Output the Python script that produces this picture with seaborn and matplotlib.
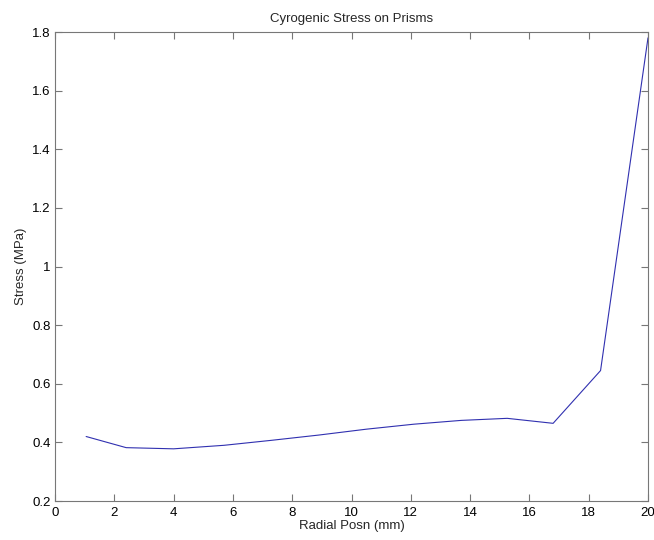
import matplotlib
matplotlib.use("Agg")
import matplotlib.pyplot as plt
import seaborn as sns
import pandas as pd

radial_posn = [1.05, 2.4, 4.0, 5.7, 7.3, 8.9, 10.5, 12.1, 13.7, 15.25, 16.8, 18.4, 20.0]
stress_mpa = [0.42, 0.382, 0.378, 0.39, 0.407, 0.425, 0.445, 0.462, 0.475, 0.482, 0.465, 0.645, 1.78]
x_ticks = [0, 2, 4, 6, 8, 10, 12, 14, 16, 18, 20]
y_ticks = [0.2, 0.4, 0.6, 0.8, 1.0, 1.2, 1.4, 1.6, 1.8]
y_tick_labels = ["0.2", "0.4", "0.6", "0.8", "1", "1.2", "1.4", "1.6", "1.8"]

sns.set_style("white")
plt.rcParams["font.family"] = ["Liberation Sans", "DejaVu Sans"]

df = pd.DataFrame({"x": radial_posn, "y": stress_mpa})

fig = plt.figure(figsize=(6.54, 5.40), dpi=100)
ax = fig.add_axes([55 / 654, 39 / 540, 593 / 654, 469 / 540])
sns.lineplot(data=df, x="x", y="y", ax=ax, color="#3030b0", linewidth=0.8)

ax.set_xlim(0, 20)
ax.set_ylim(0.2, 1.8)
ax.set_xticks(x_ticks)
ax.set_xticklabels([str(t) for t in x_ticks])
ax.set_yticks(y_ticks)
ax.set_yticklabels(y_tick_labels)
ax.tick_params(direction="in", length=5, width=0.8, colors="#777777",
               labelcolor="black", labelsize=9.5, top=True, right=True,
               bottom=True, left=True)
ax.tick_params(axis="x", pad=4)
ax.tick_params(axis="y", pad=3)
for s in ax.spines.values():
    s.set_visible(True)
    s.set_color("#777777")
    s.set_linewidth(0.8)

ax.set_xlabel("Radial Posn (mm)", fontsize=9.5, labelpad=1)
ax.set_ylabel("Stress (MPa)", fontsize=9.5, labelpad=4)
ax.set_title("Cyrogenic Stress on Prisms", fontsize=9.5, pad=7)

fig.savefig("out.png", dpi=100)
